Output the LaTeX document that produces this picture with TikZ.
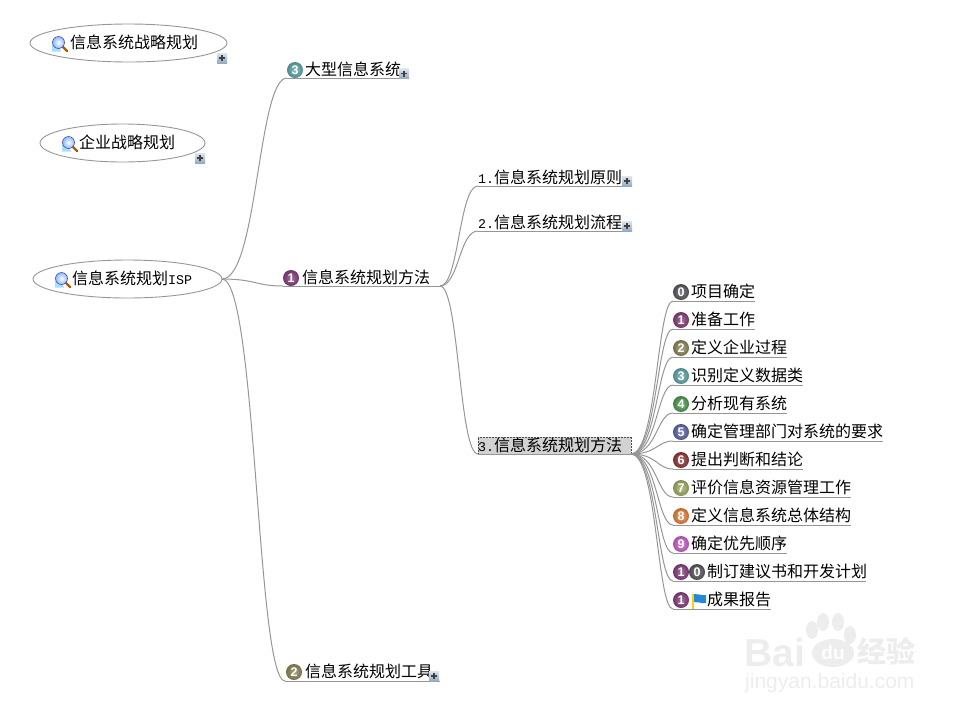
\documentclass[tikz,border=0pt]{standalone}
\usepackage{fontspec}
\setmainfont{Noto Sans CJK SC}
\newfontfamily\latinmono{Liberation Mono}
\newfontfamily\latinsans{Liberation Sans}
\usetikzlibrary{calc,shapes.geometric,shadings}
\definecolor{linegray}{HTML}{969696}
\definecolor{wm}{HTML}{EDEDED}
\definecolor{bzero}{HTML}{5A5A62}
\definecolor{bone}{HTML}{8A3F80}
\definecolor{btwo}{HTML}{8F8A5A}
\definecolor{bthree}{HTML}{62ABAE}
\definecolor{bfour}{HTML}{4F9F55}
\definecolor{bfive}{HTML}{6268A8}
\definecolor{bsix}{HTML}{93383A}
\definecolor{bseven}{HTML}{A3B066}
\definecolor{beight}{HTML}{EE8440}
\definecolor{bnine}{HTML}{CF62CF}
\definecolor{plustop}{HTML}{DDE6EE}
\definecolor{plusbot}{HTML}{93AAC0}
\tikzset{
  x=1pt,y=-1pt,
  link/.style={draw=linegray,line width=1pt},
  oval/.style={ellipse,draw=linegray,line width=0.9pt,inner sep=0pt,minimum height=38pt},
  topic/.style={anchor=base west,inner sep=0pt,font=\fontsize{16}{16}\selectfont,text=black},
  badge/.style={circle,inner sep=0pt,minimum size=16pt,text=white,font=\latinsans\bfseries\fontsize{12.5}{12.5}\selectfont},
  plusbox/.style={minimum size=10pt,inner sep=0pt,top color=plustop,bottom color=plusbot,font=\fontsize{1}{1}\selectfont},
  selbox/.style={fill=gray!35,draw=black!70,densely dotted,line width=0.5pt},
  wmtext/.style={text=wm,inner sep=0pt,anchor=base west}
}
% fraction, from, to: curve leaving and arriving level
\newcommand{\conn}[3]{\coordinate (cm) at ($(#2)!#1!(#3)$);
  \path[link] (#2) .. controls (cm |- #2) and (cm |- #3) .. (#3);}
% name, x, y, colour, digit
\newcommand{\ballbadge}[5]{\node[badge,shade,inner color=#4!75!white,outer color=#4!80!black] (#1) at (#2,#3) {#5};}
% name, x, y
\newcommand{\plusmark}[3]{\node[plusbox] (#1) at (#2,#3) {};
  \draw[black!75,line width=1.1pt] ($(#1)+(-3,0)$) -- ($(#1)+(3,0)$) ($(#1)+(0,-3)$) -- ($(#1)+(0,3)$);}
% magnifier-and-person icon at top-left x,y
\newcommand{\lensicon}[2]{\begin{scope}[shift={(#1,#2)}]
  \fill[blue!35!cyan!35!white] (0,15.5) -- (0,9) -- (6,7) -- (9,15.5) -- cycle;
  \draw[orange!70!black,line width=2.2pt,line cap=round] (10,10) -- (15,15);
  \draw[blue!40!gray,line width=.6pt,inner color=white,outer color=cyan!40!blue!45!white] (6.5,6.5) circle (6);
\end{scope}}
% flag icon
\newcommand{\flagicon}[2]{\begin{scope}[shift={(#1,#2)}]
  \draw[yellow!70!orange,line width=1.4pt] (2,0) -- (2,15);
  \fill[blue!45!cyan!70!gray] (3,0) .. controls (7,-1) and (9,2) .. (15,1) -- (15,9) .. controls (9,10) and (7,7) .. (3,8) -- cycle;
\end{scope}}
\begin{document}
\begin{tikzpicture}
\useasboundingbox (0,0) rectangle (971,716);

% watermark
\begin{scope}
  \node[wmtext,font=\latinsans\bfseries\fontsize{39}{39}\selectfont] (wmbai) at (744,666) {Bai};
  \fill[wm] (812,630) ellipse (6 and 9) (823,622) ellipse (6 and 9) (838,622) ellipse (6 and 9) (850,635) ellipse (6 and 9);
  \fill[wm] (833,653) ellipse (21 and 14);
  \node[text=white,inner sep=0pt,font=\latinsans\bfseries\fontsize{19}{19}\selectfont] (wmdu) at (833,653) {du};
  \node[wmtext,font=\bfseries\fontsize{29}{29}\selectfont] (wmjy) at (857,662) {经验};
  \node[wmtext,font=\latinsans\fontsize{21}{21}\selectfont] (wmurl) at (745,688) {jingyan.baidu.com};
\end{scope}

% ovals
\node[oval,minimum width=197pt] (strat) at (128.5,43) {};
\node[oval,minimum width=165pt] (corp) at (122.5,143) {};
\node[oval,minimum width=189pt] (root) at (127.5,279) {};
\lensicon{52}{36}
\node[topic] (tstrat) at (70,48.5) {信息系统战略规划};
\lensicon{62}{136}
\node[topic] (tcorp) at (79,148.5) {企业战略规划};
\lensicon{55}{272}
\node[topic] (troot) at (72,284.5) {信息系统规划{\latinmono\fontsize{13.3}{13.3}\selectfont ISP}};
\plusmark{pstrat}{222}{58}
\plusmark{pcorp}{200}{158}

% first level
\coordinate (rootout) at (222,279);
\coordinate (a3in) at (287,78);   \coordinate (a3end) at (405,78);
\coordinate (a1in) at (283,286);  \coordinate (a1end) at (440,286);
\coordinate (a2in) at (285,681);  \coordinate (a2end) at (440,681);
\conn{.55}{rootout}{a3in} \conn{.55}{rootout}{a1in} \conn{.55}{rootout}{a2in}
\draw[link] (a3in) -- (a3end);
\draw[link] (a1in) -- (a1end);
\draw[link] (a2in) -- (a2end);
\ballbadge{ba3}{295}{70}{bthree}{3}
\node[topic] (ta3) at (305,75) {大型信息系统};
\plusmark{pa3}{404}{73.5}
\ballbadge{ba1}{291}{278}{bone}{1}
\node[topic] (ta1) at (302,283) {信息系统规划方法};
\ballbadge{ba2}{294}{672}{btwo}{2}
\node[topic] (ta2) at (305,677.5) {信息系统规划工具};
\plusmark{pa2}{434}{676}

% second level
\coordinate (b1in) at (478,186); \coordinate (b1end) at (622,186);
\coordinate (b2in) at (478,231); \coordinate (b2end) at (622,231);
\coordinate (b3in) at (478,454); \coordinate (b3end) at (631,454);
\conn{.5}{a1end}{b1in} \conn{.5}{a1end}{b2in} \conn{.5}{a1end}{b3in}
\draw[link] (b1in) -- (b1end);
\draw[link] (b2in) -- (b2end);
\node[selbox,minimum width=153pt,minimum height=17pt,inner sep=0pt,anchor=south west] (sel) at (b3in) {};
\draw[link] (b3in) -- (b3end);
\node[topic] (tb1) at (478,183) {{\latinmono\fontsize{13.3}{13.3}\selectfont 1.}信息系统规划原则};
\node[topic] (tb2) at (478,228) {{\latinmono\fontsize{13.3}{13.3}\selectfont 2.}信息系统规划流程};
\node[topic] (tb3) at (478,451) {{\latinmono\fontsize{13.3}{13.3}\selectfont 3.}信息系统规划方法};
\plusmark{pb1}{627}{181}
\plusmark{pb2}{627}{226}

% third level
\foreach \nm/\yy/\xe/\col/\dg/\txt in {
  c0/301/755/bzero/0/项目确定,
  c1/329/755/bone/1/准备工作,
  c2/357/787/btwo/2/定义企业过程,
  c3/385/803/bthree/3/识别定义数据类,
  c4/413/787/bfour/4/分析现有系统,
  c5/441/883/bfive/5/确定管理部门对系统的要求,
  c6/469/803/bsix/6/提出判断和结论,
  c7/497/851/bseven/7/评价信息资源管理工作,
  c8/525/851/beight/8/定义信息系统总体结构,
  c9/553/787/bnine/9/确定优先顺序}{
  \coordinate (\nm in) at (673,\yy);
  \coordinate (\nm end) at (\xe,\yy);
  \conn{.62}{b3end}{\nm in}
  \draw[link] (\nm in) -- (\nm end);
  \ballbadge{\nm b}{681}{\yy-9}{\col}{\dg}
  \node[topic] (\nm t) at (691,\yy-3.5) {\txt};
}
\coordinate (c10in) at (673,581); \coordinate (c10end) at (866,581);
\conn{.62}{b3end}{c10in}
\draw[link] (c10in) -- (c10end);
\ballbadge{c10b}{681}{572}{bone}{1}
\ballbadge{c10c}{697}{572}{bzero}{0}
\node[topic] (c10t) at (707,577.5) {制订建议书和开发计划};
\coordinate (c11in) at (673,609); \coordinate (c11end) at (771,609);
\conn{.62}{b3end}{c11in}
\draw[link] (c11in) -- (c11end);
\ballbadge{c11b}{681}{600}{bone}{1}
\flagicon{691}{594}
\node[topic] (c11t) at (707,605.5) {成果报告};
\end{tikzpicture}
\end{document}
